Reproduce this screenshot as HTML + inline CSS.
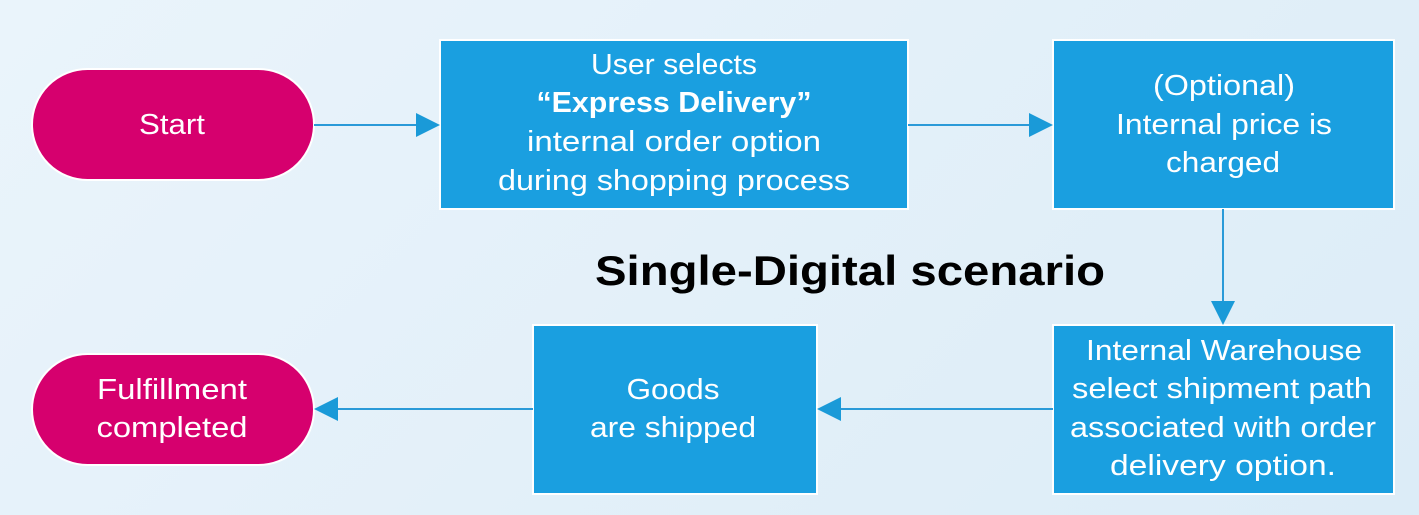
<!DOCTYPE html>
<html><head><meta charset="utf-8"><style>
html,body{margin:0;padding:0;}
body{width:1419px;height:515px;overflow:hidden;background:linear-gradient(135deg,#eaf4fb,#dcecf7);}
svg{display:block;font-family:"Liberation Sans","DejaVu Sans",sans-serif;}
</style></head><body>
<svg width="1419" height="515" viewBox="0 0 1419 515">
<g fill="#1a9fe0" stroke="#ffffff" stroke-width="2">
<rect x="440" y="40" width="468" height="169"/>
<rect x="1053" y="40" width="341" height="169"/>
<rect x="1053" y="325" width="341" height="169"/>
<rect x="533" y="325" width="284" height="169"/>
</g>
<g fill="#d6006e" stroke="#ffffff" stroke-width="2">
<rect x="32" y="69" width="282" height="111" rx="55.5"/>
<rect x="32" y="354" width="282" height="111" rx="55.5"/>
</g>
<g stroke="#2a9ad8" stroke-width="2" fill="none">
<line x1="314" y1="125" x2="420" y2="125"/>
<line x1="908" y1="125" x2="1033" y2="125"/>
<line x1="1223" y1="209" x2="1223" y2="305"/>
<line x1="1053" y1="409" x2="838" y2="409"/>
<line x1="533" y1="409" x2="336" y2="409"/>
</g>
<g fill="#1a9ad8">
<polygon points="416,113 440,125 416,137"/>
<polygon points="1029,113 1053,125 1029,137"/>
<polygon points="1211,301 1235,301 1223,325"/>
<polygon points="841,397 817,409 841,421"/>
<polygon points="338,397 314,409 338,421"/>
</g>
<g fill="#ffffff" font-size="29" text-anchor="middle" lengthAdjust="spacingAndGlyphs">
<text x="172" y="134" textLength="66" lengthAdjust="spacingAndGlyphs">Start</text>
<text x="674" y="74" textLength="166" lengthAdjust="spacingAndGlyphs">User selects</text>
<text x="674" y="112" font-weight="bold" textLength="275" lengthAdjust="spacingAndGlyphs">“Express Delivery”</text>
<text x="674" y="151" textLength="294" lengthAdjust="spacingAndGlyphs">internal order option</text>
<text x="674" y="190" textLength="352" lengthAdjust="spacingAndGlyphs">during shopping process</text>
<text x="1224" y="95" textLength="142" lengthAdjust="spacingAndGlyphs">(Optional)</text>
<text x="1224" y="134" textLength="216" lengthAdjust="spacingAndGlyphs">Internal price is</text>
<text x="1223" y="172" textLength="114" lengthAdjust="spacingAndGlyphs">charged</text>
<text x="1224" y="360" textLength="276" lengthAdjust="spacingAndGlyphs">Internal Warehouse</text>
<text x="1222" y="398" textLength="300" lengthAdjust="spacingAndGlyphs">select shipment path</text>
<text x="1223" y="437" textLength="306" lengthAdjust="spacingAndGlyphs">associated with order</text>
<text x="1223" y="475" textLength="226" lengthAdjust="spacingAndGlyphs">delivery option.</text>
<text x="673" y="399" textLength="93" lengthAdjust="spacingAndGlyphs">Goods</text>
<text x="673" y="437" textLength="166" lengthAdjust="spacingAndGlyphs">are shipped</text>
<text x="172" y="399" textLength="150" lengthAdjust="spacingAndGlyphs">Fulfillment</text>
<text x="172" y="437" textLength="151" lengthAdjust="spacingAndGlyphs">completed</text>
</g>
<text x="850" y="285" text-anchor="middle" font-size="42" font-weight="bold" fill="#000" textLength="510" lengthAdjust="spacingAndGlyphs">Single-Digital scenario</text>
</svg>
</body></html>
